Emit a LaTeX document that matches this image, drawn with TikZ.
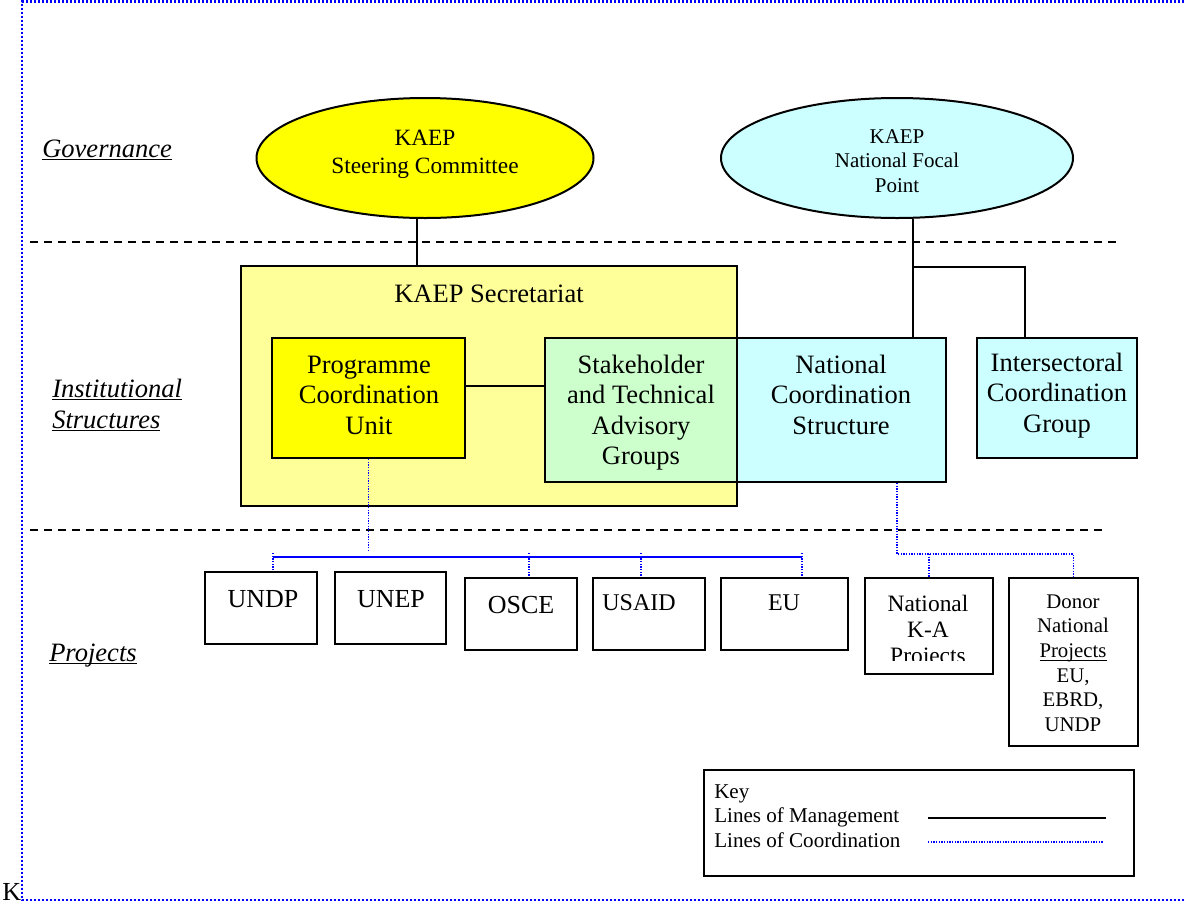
\documentclass[tikz,border=0pt]{standalone}
\usepackage{fontspec}
\setmainfont{Liberation Serif}
\usetikzlibrary{shapes.geometric,calc}
\definecolor{ylw}{HTML}{FFFF00}
\definecolor{lylw}{HTML}{FFFF99}
\definecolor{lgrn}{HTML}{CCFFCC}
\definecolor{lcyn}{HTML}{CCFFFF}
\definecolor{bl}{HTML}{0000FF}
\newcommand\tsz[2]{\fontsize{#1}{#2}\selectfont}
\newcommand\myul[2][0.9pt]{\setbox0\hbox{#2}\rlap{\rule[-2.4pt]{\wd0}{#1}}\box0}
\tikzset{
  wh/.style 2 args={minimum width=0.75*#1pt, minimum height=0.75*#2pt},
  box/.style={draw=black, line width=1.5pt, rectangle, inner sep=0pt},
  ell/.style={draw=black, line width=1.5pt, ellipse, inner sep=0pt},
  txt/.style={inner sep=0pt, align=center, anchor=north},
  ltxt/.style={inner sep=0pt, align=left, anchor=north west},
  mgmt/.style={draw=black, line width=1.5pt},
  coord/.style={draw=bl, line width=1.1pt, dash pattern=on 1pt off 1pt},
  bus/.style={draw=bl, line width=1.5pt},
  sepline/.style={draw=black, line width=1.4pt, dash pattern=on 6pt off 4.5pt},
  frame/.style={draw=bl, line width=2.2pt, dash pattern=on 1.5pt off 1.5pt},
  big/.style={font=\tsz{19.9pt}{22.9pt}},
  lbl/.style={font=\itshape\tsz{19.9pt}{23.25pt}},
}
\begin{document}
\begin{tikzpicture}[x=0.75pt,y=-0.75pt]
\useasboundingbox (0,0) rectangle (1185,904);
\clip (0,0) rectangle (1185,904);
\fill[white] (0,0) rectangle (1185,904);
% frame
\draw[frame] (1200,1.5) -- (22,1.5) -- (22,900) -- (1200,900);
% separators
\draw[sepline] (30,242) -- (1118,242);
\draw[sepline] (30,530) -- (1105,530);
% side labels
\node[lbl, inner sep=0pt, anchor=base west] (lgov) at (42,157) {\myul{Governance}};
\node[lbl, ltxt] (linst) at (52,375.3) {\strut\myul{Institutional}\\\myul{Structures}};
\node[lbl, inner sep=0pt, anchor=base west] (lproj) at (49,661) {\myul{Projects}};
% governance ellipses
\node[ell, fill=ylw, wh={337}{120}] (sc) at (425,158) {};
\node[txt, font=\tsz{17.5pt}{21pt}] (sct) at (425,125.4) {\strut KAEP\\Steering Committee};
\node[ell, fill=lcyn, wh={352}{120}] (nfp) at (897,158) {};
\node[txt, font=\tsz{15.75pt}{18.4pt}] (nfpt) at (897,125.85) {\strut KAEP\\National Focal\\Point};
% institutional structures
\node[box, fill=lylw, wh={496}{240}] (sec) at (489,386) {};
\node[big, inner sep=0pt, anchor=base] (sect) at (489,302) {KAEP Secretariat};
\node[box, fill=ylw, wh={193}{120}] (pcu) at (368.5,398) {};
\node[txt, big] (pcut) at (369,351.65) {\strut Programme\\Coordination\\Unit};
\node[box, fill=lgrn, wh={192}{144}] (stk) at (641,410) {};
\node[txt, big] (stkt) at (641,351.65) {\strut Stakeholder\\and Technical\\Advisory\\Groups};
\node[box, fill=lcyn, wh={209}{144}] (ncs) at (841.5,410) {};
\node[txt, big] (ncst) at (841,351.65) {\strut National\\Coordination\\Structure};
\node[box, fill=lcyn, wh={160}{120}] (icg) at (1057,398) {};
\node[txt, big] (icgt) at (1057,349.65) {\strut Intersectoral\\Coordination\\Group};
% management lines
\draw[mgmt] ([xshift=-6pt]sc.south) -- ([xshift=-6pt]sc.south |- sec.north);
\draw[mgmt] ([xshift=12pt]nfp.south) -- ([xshift=12pt]nfp.south |- ncs.north);
\coordinate (br) at ($(nfp.south)+(16,48)$);
\draw[mgmt] (br) -| ([xshift=-24pt]icg.north);
\draw[mgmt] ([yshift=9pt]pcu.east) -- ([yshift=9pt]pcu.east -| stk.west);
% projects
\node[box, wh={112}{72}] (undp) at (261,608) {};
\node[inner sep=0pt, anchor=base, font=\tsz{19.5pt}{22pt}] (undpt) at (263,607) {UNDP};
\node[box, wh={111}{72}] (unep) at (390.5,608) {};
\node[inner sep=0pt, anchor=base, font=\tsz{19.5pt}{22pt}] (unept) at (391,607) {UNEP};
\node[box, wh={112}{72}] (osce) at (521,614) {};
\node[inner sep=0pt, anchor=base, font=\tsz{19.5pt}{22pt}] (oscet) at (521,613) {OSCE};
\node[box, wh={112}{72}] (usaid) at (649,614) {};
\node[inner sep=0pt, anchor=base, font=\tsz{18pt}{21pt}] (usaidt) at (639,610) {USAID};
\node[box, wh={127}{72}] (eu) at (784.5,614) {};
\node[inner sep=0pt, anchor=base, font=\tsz{18pt}{21pt}] (eut) at (784,610) {EU};
\node[box, wh={128}{96}] (nka) at (929,626) {};
\begin{scope}
\clip (866,579) rectangle (992,660);
\node[txt, font=\tsz{17.6pt}{19.5pt}] (nkat) at (928,592.8) {\strut National\\K-A\\Projects};
\end{scope}
\node[box, wh={129}{168}] (donor) at (1073.5,662) {};
\node[txt, font=\tsz{15.6pt}{18.5pt}] (donort) at (1073,590.7) {\strut Donor\\National\\\myul[0.8pt]{Projects}\\EU,\\EBRD,\\UNDP};
% coordination lines
\coordinate (busL) at (273,557);
\coordinate (busR) at (802,557);
\draw[coord] (pcu.south) -- ($(pcu.south |- busL)+(0,-6)$);
\draw[bus] (busL) -- (busR);
\draw[coord] ($(busL)+(0,-4)$) -- (busL |- undp.north);
\draw[coord] ($(osce.north |- busL)+(8,-4)$) -- ($(osce.north)+(8,0)$);
\draw[coord] ($(usaid.north |- busL)+(-8,-4)$) -- ($(usaid.north)+(-8,0)$);
\draw[coord] ($(busR)+(0,-4)$) -- (busR |- eu.north);
\coordinate (nb) at (897,554);
\draw[coord] (ncs.south -| nb) -- (nb) -| (donor.north);
\draw[coord] (nka.north |- nb) -- (nka.north);
% key
\node[box, wh={430}{106}] (key) at (919,823) {};
\node[ltxt, font=\tsz{15.8pt}{18.4pt}] (keyt) at (714,780.85) {\strut Key\\Lines of Management\\Lines of Coordination};
\coordinate (km1) at (928,818);
\coordinate (km2) at (1106,818);
\coordinate (kc1) at (928,842);
\coordinate (kc2) at (1103,842);
\draw[mgmt] (km1) -- (km2);
\draw[coord, line width=0.8pt] (kc1) -- (kc2);
% stray letter
\node[inner sep=0pt, anchor=base west, font=\tsz{19.5pt}{22pt}] (kk) at (2,900) {K};
\end{tikzpicture}
\end{document}
